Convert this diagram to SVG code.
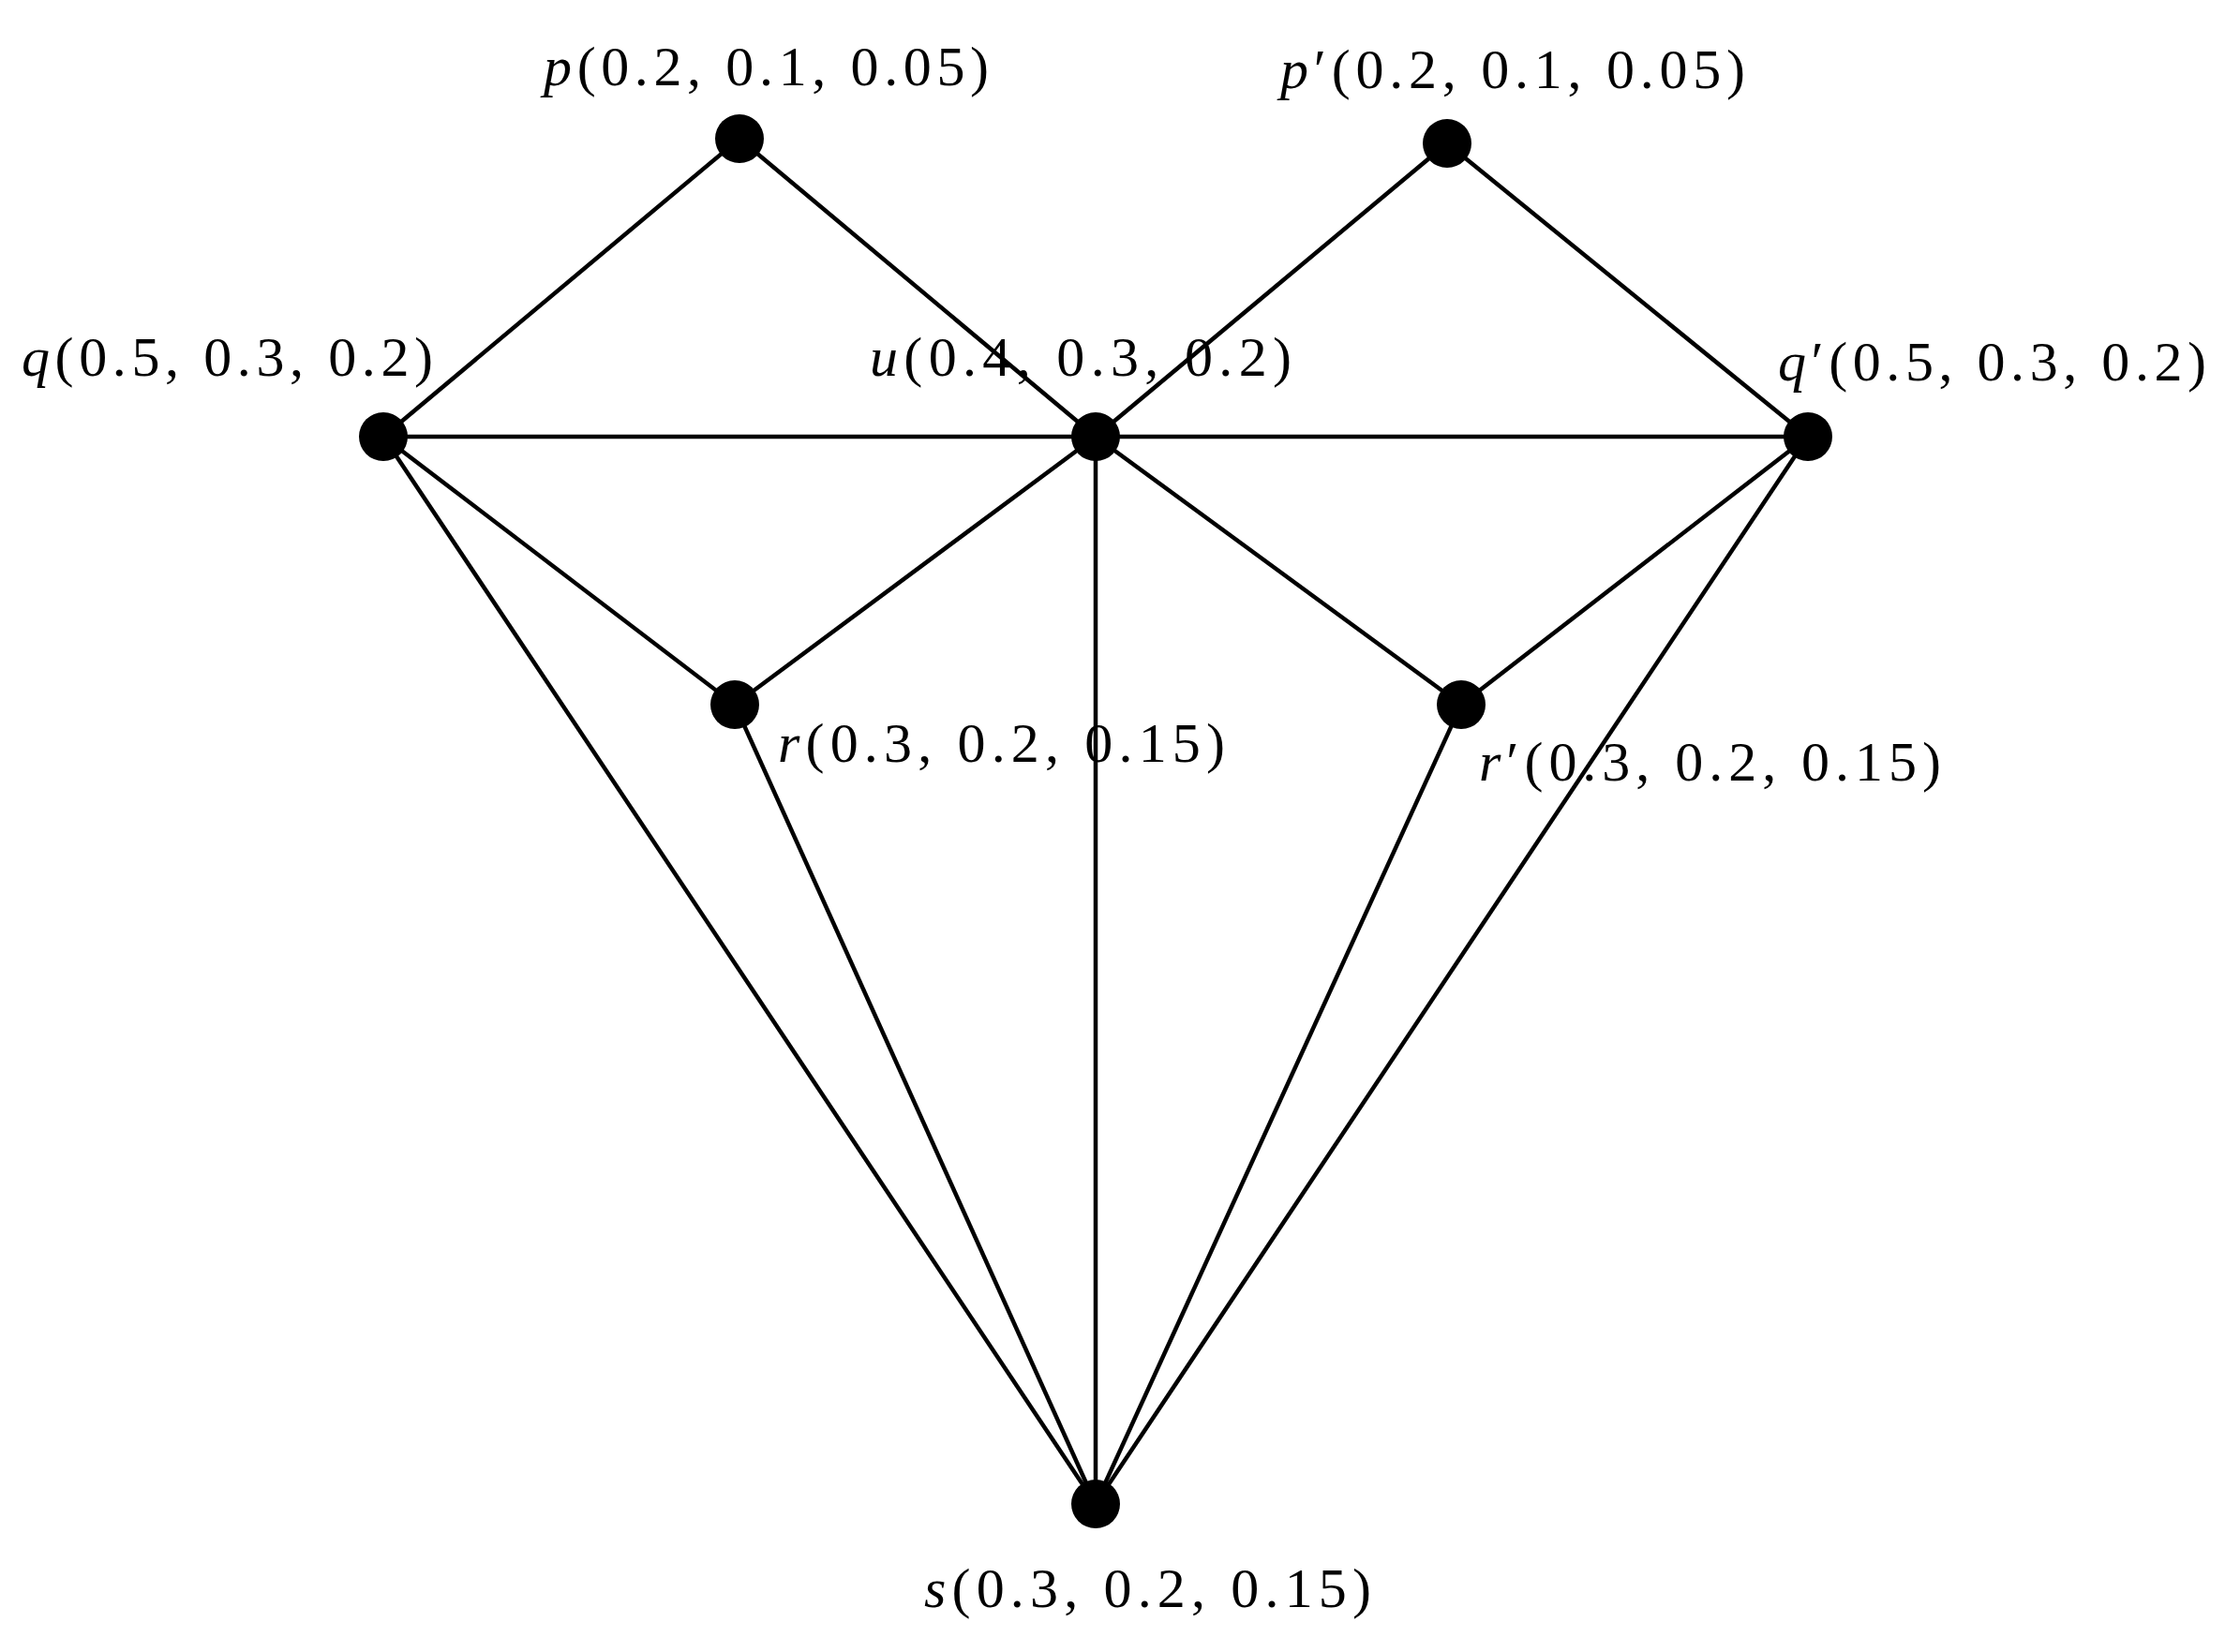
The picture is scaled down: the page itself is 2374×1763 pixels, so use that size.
<svg xmlns="http://www.w3.org/2000/svg" width="2374" height="1763" viewBox="0 0 2374 1763">
<style>
.e{stroke:#000;stroke-width:4.5;fill:none}
.n{fill:#000}
text{font-family:"Liberation Serif","DejaVu Serif",serif;font-size:60px;fill:#000}
.i{font-style:italic}
</style>
<rect width="2374" height="1763" fill="#fff"/>
<g id="edges" class="e">
<line x1="789" y1="148" x2="409" y2="466"/>
<line x1="789" y1="148" x2="1169" y2="466"/>
<line x1="1544" y1="153" x2="1169" y2="466"/>
<line x1="1544" y1="153" x2="1929" y2="466"/>
<line x1="409" y1="466" x2="1929" y2="466"/>
<line x1="409" y1="466" x2="784" y2="752"/>
<line x1="1169" y1="466" x2="784" y2="752"/>
<line x1="1169" y1="466" x2="1559" y2="752"/>
<line x1="1929" y1="466" x2="1559" y2="752"/>
<line x1="409" y1="466" x2="1169" y2="1605"/>
<line x1="784" y1="752" x2="1169" y2="1605"/>
<line x1="1169" y1="466" x2="1169" y2="1605"/>
<line x1="1559" y1="752" x2="1169" y2="1605"/>
<line x1="1929" y1="466" x2="1169" y2="1605"/>
</g>
<g id="p"><circle class="n" cx="789" cy="148" r="26"/><text x="580" y="91" textLength="475"><tspan class="i">p</tspan>(0.2, 0.1, 0.05)</text></g>
<g id="p2"><circle class="n" cx="1544" cy="153" r="26"/><text x="1366" y="94" textLength="496"><tspan class="i">p</tspan>′(0.2, 0.1, 0.05)</text></g>
<g id="q"><circle class="n" cx="409" cy="466" r="26"/><text x="23" y="401" textLength="439"><tspan class="i">q</tspan>(0.5, 0.3, 0.2)</text></g>
<g id="u"><circle class="n" cx="1169" cy="466" r="26"/><text x="928" y="401" textLength="450"><tspan class="i">u</tspan>(0.4, 0.3, 0.2)</text></g>
<g id="q2"><circle class="n" cx="1929" cy="466" r="26"/><text x="1897" y="406" textLength="457"><tspan class="i">q</tspan>′(0.5, 0.3, 0.2)</text></g>
<g id="r"><circle class="n" cx="784" cy="752" r="26"/><text x="830" y="813" textLength="477"><tspan class="i">r</tspan>(0.3, 0.2, 0.15)</text></g>
<g id="r2"><circle class="n" cx="1559" cy="752" r="26"/><text x="1578" y="833" textLength="493"><tspan class="i">r</tspan>′(0.3, 0.2, 0.15)</text></g>
<g id="s"><circle class="n" cx="1169" cy="1605" r="26"/><text x="986" y="1715" textLength="477"><tspan class="i">s</tspan>(0.3, 0.2, 0.15)</text></g>
</svg>
